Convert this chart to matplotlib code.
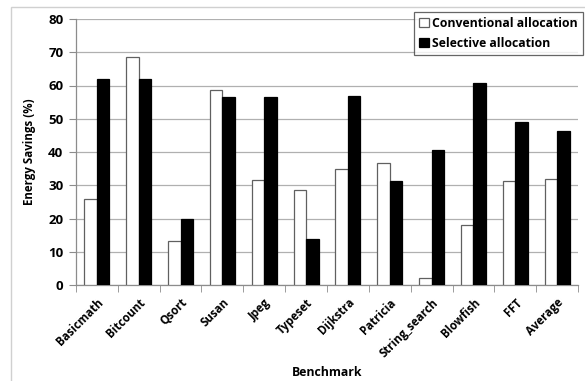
import matplotlib
matplotlib.use("Agg")
import matplotlib.pyplot as plt
import numpy as np
from matplotlib.patches import Rectangle

categories = ["Basicmath", "Bitcount", "Qsort", "Susan", "Jpeg", "Typeset", "Dijkstra",
              "Patricia", "String_search", "Blowfish", "FFT", "Average"]
conventional = [26.0, 68.5, 13.1, 58.5, 31.5, 28.6, 34.8, 36.8, 2.0, 18.0, 31.4, 31.8]
selective = [62.0, 62.0, 19.8, 56.6, 56.5, 13.9, 56.8, 31.3, 40.6, 60.8, 49.1, 46.3]
y_ticks = [0, 10, 20, 30, 40, 50, 60, 70, 80]

plt.rcParams['font.family'] = ['Open Sans', 'DejaVu Sans']
plt.rcParams['font.weight'] = 'bold'

fig = plt.figure(figsize=(5.85, 3.81), dpi=100)
fig.patches.append(Rectangle((11/585, -0.2), 1.2, 1.2 - 7/381 + 0.0, transform=fig.transFigure,
                             fill=False, edgecolor='#d0d0d0', linewidth=1.0))
ax = fig.add_axes([76/585, 1-285/381, 502/585, 266/381])

x = np.arange(len(categories))
w = 0.3
ax.bar(x - w/2, conventional, w, color='white', edgecolor='#606060', linewidth=0.9,
       label='Conventional allocation', zorder=3)
ax.bar(x + w/2, selective, w, color='black', edgecolor='black', linewidth=0.9,
       label='Selective allocation', zorder=3)

ax.set_xlim(-0.5, len(categories) - 0.5)
ax.set_ylim(0, 80)
ax.set_yticks(y_ticks)
ax.yaxis.grid(True, color='#b0b0b0', linewidth=0.9, zorder=0)
ax.set_axisbelow(True)
for s in ['top', 'right']:
    ax.spines[s].set_visible(False)
for s in ['left', 'bottom']:
    ax.spines[s].set_color('#8c8c8c')
    ax.spines[s].set_linewidth(0.9)

ax.set_xticks(x)
ax.set_xticklabels(categories, rotation=45, ha='right', va='top', rotation_mode='anchor',
                   fontsize=8.3, fontweight='bold')
ax.set_xticks(np.arange(len(categories) + 1) - 0.5, minor=True)
ax.tick_params(axis='x', which='major', length=0, pad=8)
ax.tick_params(axis='x', which='minor', length=5, color='#8c8c8c', direction='out')
ax.tick_params(axis='y', length=5, color='#8c8c8c', labelsize=9.5, pad=4)
for lab in ax.get_yticklabels():
    lab.set_fontweight('bold')

ax.set_ylabel('Energy Savings (%)', fontsize=8.3, fontweight='bold', labelpad=9)
fig.text(327/585, 1-372/381, 'Benchmark', ha='center', va='center', fontsize=8.8, fontweight='bold')

leg = ax.legend(loc='upper right', bbox_to_anchor=(583/585, 1-12/381),
                bbox_transform=fig.transFigure, frameon=True, fancybox=False,
                fontsize=8.8, handlelength=0.8, handleheight=0.8, handletextpad=0.3,
                borderpad=0.4, labelspacing=0.55, borderaxespad=0)
leg.get_frame().set_edgecolor('#404040')
leg.get_frame().set_linewidth(0.9)
for t in leg.get_texts():
    t.set_fontweight('bold')

fig.savefig('out.png', dpi=100)
